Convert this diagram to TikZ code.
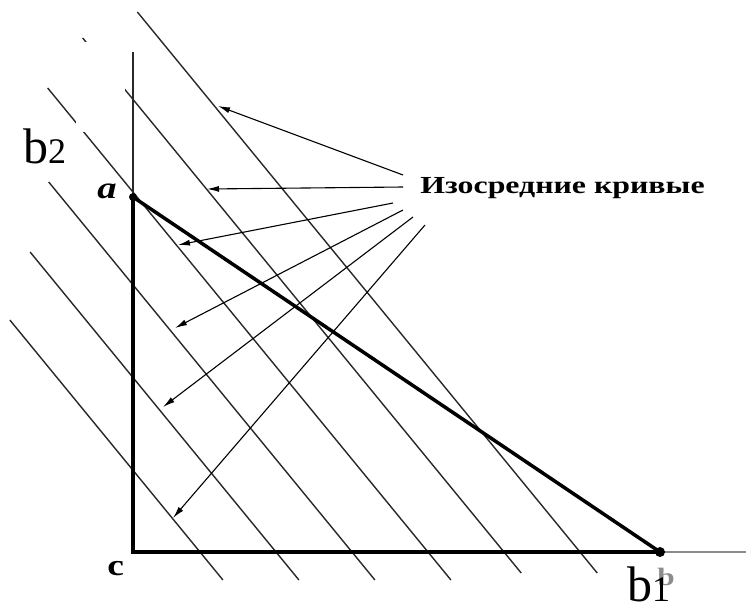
\documentclass[tikz,border=0pt]{standalone}
\usepackage{fontspec}
\usepackage{tikz}
\usetikzlibrary{arrows.meta,calc}
\setmainfont{Liberation Serif}
\definecolor{isoGray}{RGB}{40,40,40}
\definecolor{axisGray}{RGB}{140,140,140}
\newcommand{\osnum}[1]{\scalebox{0.72}{#1}}

\begin{document}
\begin{tikzpicture}[
  x=1pt,y=-1pt,
  iso/.style={draw=isoGray,line width=1.4pt},
  leg/.style={line width=4pt},
  arrow/.style={-{Latex[length=12pt,width=6pt]},line width=1.1pt},
  dot/.style={circle,fill,inner sep=0pt,minimum size=#1},
  lbl/.style={inner sep=0pt,xscale=1.25,font=\bfseries\fontsize{30}{30}\selectfont},
  big/.style={inner sep=0pt,font=\fontsize{50}{50}\selectfont}
]
  \useasboundingbox (0,0) rectangle (746,603);

  % isolines: x on the axis / top y / bottom y
  \foreach \xo/\ys/\ye in {200/320/580,276/252/580,352/182/580,428/88/580,504/38/573,580/12/573}
    \draw[iso] ({\xo-(552-\ys)/1.22},\ys) -- ({\xo+(\ye-552)/1.22},\ye);
  \fill[white] (76,42) rectangle (125,132);

  \coordinate (a) at (133,197);
  \coordinate (c) at (133,552);
  \coordinate (b) at (660,552);
  \coordinate (top) at (133,52);
  \coordinate (right) at (746,552);

  \draw[isoGray,line width=1.4pt] (top) -- (a);
  \draw[axisGray,line width=1.5pt] (b) -- (right);
  \draw[leg] (a) -- (c) -- (b);
  \draw[line width=3.5pt] (a) -- (b);
  \node[dot=8pt] (adot) at (a) {};
  \node[dot=10pt] (bdot) at (b) {};

  \node[lbl,font=\bfseries\itshape\fontsize{31}{31}\selectfont,anchor=base west] (alab) at (97,198) {a};
  \node[lbl,anchor=base west] (clab) at (107,575) {c};
  \node[lbl,text=axisGray,font=\bfseries\fontsize{25}{25}\selectfont,anchor=base west] (blab) at (657,585) {b};
  \node[big,anchor=base west] (btwo) at (23,163) {b\osnum{2}};
  \node[big,anchor=base west] (bone) at (627,601) {b\osnum{1}};

  \node[inner sep=0pt,xscale=1.3,font=\bfseries\fontsize{24.5}{24.5}\selectfont,anchor=base west] (isolab) at (420,193) {Изосредние кривые};

  \foreach \n/\x/\y in {1/218/106,2/207/189,3/178/245,4/175/328,5/163/407,6/173/518}
    \coordinate (t\n) at (\x,\y);
  \foreach \n/\dx/\dy in {1/-17/-18,2/-17/-6,3/-27/10,4/-17/17,5/-7/24,6/5/32}
    \draw[arrow] ([shift={(\dx,\dy)}]isolab.base west) -- (t\n);
\end{tikzpicture}
\end{document}
